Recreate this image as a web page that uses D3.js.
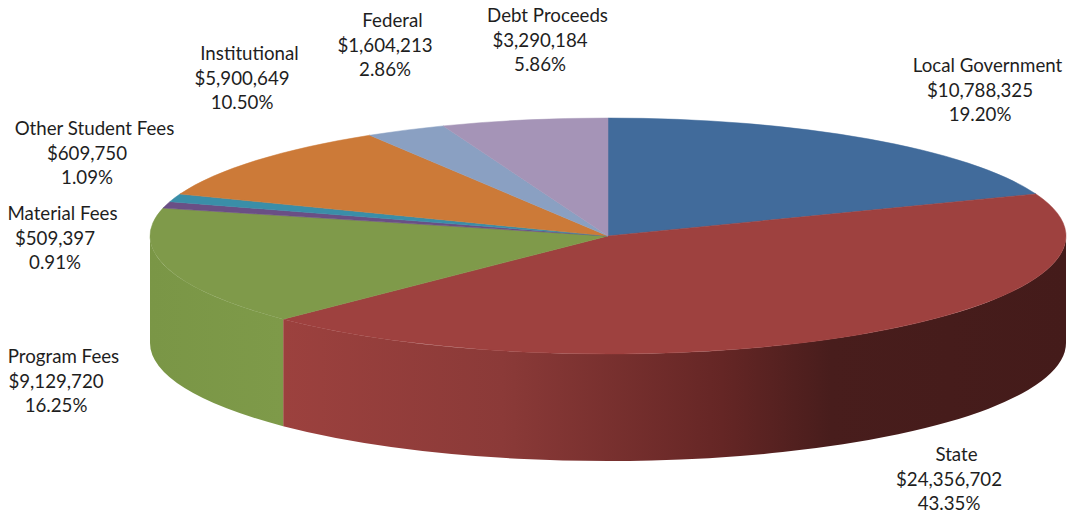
<!DOCTYPE html>
<html>
<head>
<meta charset="utf-8">
<script src="https://cdn.jsdelivr.net/npm/d3@7"></script>
<style>
  html, body { margin: 0; padding: 0; background: #fff; }
  svg { display: block; }
  text { font-family: Lato, "Open Sans", sans-serif; fill: #1e1e1e; }
</style>
</head>
<body>
<svg id="chart" width="1067" height="516"></svg>
<script>
// Revenue sources, clockwise from 12 o'clock
const categories = ["Local Government", "State", "Program Fees", "Material Fees",
                    "Other Student Fees", "Institutional", "Federal", "Debt Proceeds"];
const amounts = [10788325, 24356702, 9129720, 509397, 609750, 5900649, 1604213, 3290184];
const percentLabels = ["19.20%", "43.35%", "16.25%", "0.91%", "1.09%", "10.50%", "2.86%", "5.86%"];
const amountLabels = ["$10,788,325", "$24,356,702", "$9,129,720", "$509,397",
                      "$609,750", "$5,900,649", "$1,604,213", "$3,290,184"];
const topColors = ["#416B9B", "#9E413F", "#7F9A4A", "#6A4F85",
                   "#3A8EA8", "#CC7A38", "#8AA0C2", "#A594B7"];

// Label anchors: centre x of the value lines, centre y of the name line
const labelAnchors = [[980, 65], [949, 454], [56, 356], [55, 213],
                      [87, 128], [242, 53], [385, 20], [540, 15]];

const svg = d3.select("#chart");
const cx = 608, cy = 236, rx = 458, ry = 118, depth = 107;
const fontSize = 18.7;

const pie = d3.pie().sort(null).value(d => d.value).startAngle(0).endAngle(2 * Math.PI);
const data = categories.map((c, i) => ({ name: c, value: amounts[i], i }));
const arcs = pie(data);

const px = a => cx + rx * Math.sin(a);
const py = (a, dy = 0) => cy - ry * Math.cos(a) + dy;

function topPath(a0, a1) {
  const large = (a1 - a0) > Math.PI ? 1 : 0;
  return `M${cx},${cy}L${px(a0)},${py(a0)}A${rx},${ry} 0 ${large} 1 ${px(a1)},${py(a1)}Z`;
}
function sidePath(a0, a1) {
  const large = (a1 - a0) > Math.PI ? 1 : 0;
  return `M${px(a0)},${py(a0)}A${rx},${ry} 0 ${large} 1 ${px(a1)},${py(a1)}` +
         `L${px(a1)},${py(a1, depth)}A${rx},${ry} 0 ${large} 0 ${px(a0)},${py(a0, depth)}Z`;
}

// Side shading gradients
const defs = svg.append("defs");
const sideStops = {
  1: [[0, "#9C413E"], [0.28, "#8B3A38"], [0.56, "#652625"], [0.70, "#481D1C"], [1, "#441B1A"]],
  2: [[0, "#7A9646"], [1, "#7E9A49"]]
};

// Visible outer wall spans the front half (right edge to left edge)
const sides = arcs.map(d => {
  const a0 = Math.max(d.startAngle, Math.PI / 2);
  const a1 = Math.min(d.endAngle, 3 * Math.PI / 2);
  return a1 > a0 ? { d, a0, a1 } : null;
}).filter(Boolean);

sides.forEach(s => {
  const i = s.d.data.i;
  const x0 = Math.min(px(s.a0), px(s.a1)), x1 = Math.max(px(s.a0), px(s.a1));
  const g = defs.append("linearGradient")
    .attr("id", "side" + i).attr("gradientUnits", "userSpaceOnUse")
    .attr("x1", i === 1 ? px(s.a1) : x0).attr("x2", i === 1 ? cx + rx : x1)
    .attr("y1", 0).attr("y2", 0);
  (sideStops[i] || [[0, topColors[i]], [1, topColors[i]]]).forEach(([o, c]) =>
    g.append("stop").attr("offset", o).attr("stop-color", c));
});

svg.append("g").selectAll("path").data(sides).join("path")
  .attr("d", s => sidePath(s.a0, s.a1))
  .attr("fill", s => `url(#side${s.d.data.i})`);

svg.append("g").selectAll("path").data(arcs).join("path")
  .attr("d", d => topPath(d.startAngle, d.endAngle))
  .attr("fill", d => topColors[d.data.i])
  .attr("stroke", d => topColors[d.data.i]).attr("stroke-width", 0.5);

// Data labels: name, amount, share
const lg = svg.append("g").selectAll("g").data(arcs).join("g")
  .attr("transform", d => `translate(${labelAnchors[d.data.i][0]},${labelAnchors[d.data.i][1]})`);
lg.append("text").attr("x", 7.5).attr("y", 0).attr("text-anchor", "middle")
  .attr("dominant-baseline", "central").attr("font-size", fontSize).text(d => d.data.name);
lg.append("text").attr("x", 0).attr("y", 24.5).attr("text-anchor", "middle")
  .attr("dominant-baseline", "central").attr("font-size", fontSize).text(d => amountLabels[d.data.i]);
lg.append("text").attr("x", 0).attr("y", 49).attr("text-anchor", "middle")
  .attr("dominant-baseline", "central").attr("font-size", fontSize).text(d => percentLabels[d.data.i]);
</script>
</body>
</html>
